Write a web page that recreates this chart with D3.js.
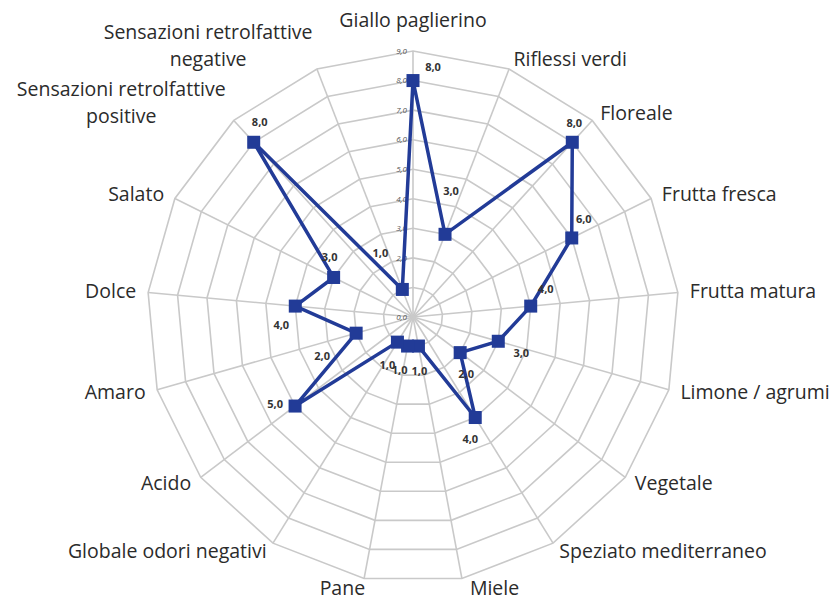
<!DOCTYPE html>
<html>
<head>
<meta charset="utf-8">
<script src="https://cdn.jsdelivr.net/npm/d3@7"></script>
<style>
  html, body { margin: 0; padding: 0; background: #ffffff; }
  svg { display: block; }
</style>
</head>
<body>
<svg id="chart" width="837" height="597"></svg>
<script>
// ---- Data ----
const categories = [
  "Giallo paglierino", "Riflessi verdi", "Floreale", "Frutta fresca", "Frutta matura",
  "Limone / agrumi", "Vegetale", "Speziato mediterraneo", "Miele", "Pane",
  "Globale odori negativi", "Acido", "Amaro", "Dolce", "Salato",
  "Sensazioni retrolfattive positive", "Sensazioni retrolfattive negative"
];
const values = [8, 3, 8, 6, 4, 3, 2, 4, 1, 1, 1, 5, 2, 4, 3, 8, 1];
const tickValues = [0, 1, 2, 3, 4, 5, 6, 7, 8, 9];
const tickLabels = ["0,0", "1,0", "2,0", "3,0", "4,0", "5,0", "6,0", "7,0", "8,0", "9,0"];

// ---- Layout / style (kept separate from data) ----
const labelOffsets = [
  [20, -13], [6, -43], [2, -19], [12, -19], [15, -17],
  [23, 12], [6, 22], [-5, 22], [1, 25], [-8, 24],
  [-10, 23], [-20, -2], [-34, 23], [-14, 19], [-4, -20],
  [6, -20], [-22, -36]
];
const cx = 413, cy = 317, R = 266;
const lineColor = "#223B97";
const gridColor = "#C9C9C9";
const fontFam = "'Open Sans', Lato, sans-serif";
const labelFont = 19.5;

const svg = d3.select("#chart");
const n = categories.length;
const r = d3.scaleLinear().domain([0, d3.max(tickValues)]).range([0, R]);
const angle = d3.scaleLinear().domain([0, n]).range([0, 2 * Math.PI]);
const px = (i, v) => cx + r(v) * Math.sin(angle(i));
const py = (i, v) => cy - r(v) * Math.cos(angle(i));

const g = svg.append("g");

// Rings (polygons)
const idx = d3.range(n);
g.selectAll("path.ring").data(tickValues.filter(t => t > 0)).join("path")
  .attr("class", "ring")
  .attr("d", t => d3.line()(idx.map(i => [px(i, t), py(i, t)])) + "Z")
  .attr("fill", "none")
  .attr("stroke", gridColor)
  .attr("stroke-width", 1.6);

// Spokes
g.selectAll("line.spoke").data(idx).join("line")
  .attr("class", "spoke")
  .attr("x1", cx).attr("y1", cy)
  .attr("x2", i => px(i, d3.max(tickValues)))
  .attr("y2", i => py(i, d3.max(tickValues)))
  .attr("stroke", gridColor)
  .attr("stroke-width", 1.6);

// Tick labels along the top axis
g.selectAll("text.tick").data(tickValues).join("text")
  .attr("class", "tick")
  .attr("x", cx - 6)
  .attr("y", t => cy - r(t))
  .attr("dy", "0.35em")
  .attr("text-anchor", "end")
  .attr("font-family", fontFam)
  .attr("font-size", 8)
  .attr("font-style", "italic")
  .attr("fill", "#555555")
  .text((t, k) => tickLabels[k]);

// Axis category labels
const maxW = 250;
idx.forEach(i => {
  const a = angle(i);
  const s = Math.sin(a), c = Math.cos(a);
  const tx = px(i, d3.max(tickValues)), ty = py(i, d3.max(tickValues));
  let anchor = "middle", x = tx;
  if (s > 0.3) { anchor = "start"; x = tx + 12 * s; }
  else if (s > 0.05) { anchor = "start"; x = tx + 8; }
  else if (s < -0.3) { anchor = "end"; x = tx + 12 * s; }
  else if (s < -0.05) { anchor = "end"; x = tx + 1; }
  const t = g.append("text")
    .attr("text-anchor", anchor)
    .attr("font-family", fontFam)
    .attr("font-size", labelFont)
    .attr("fill", "#2b2b2b");
  // wrap long labels
  const words = categories[i].split(" ");
  const tmp = t.append("tspan").text(categories[i]);
  let lines = [categories[i]];
  if (tmp.node().getComputedTextLength() > maxW) {
    lines = [];
    let cur = "";
    words.forEach(w => {
      const test = cur ? cur + " " + w : w;
      tmp.text(test);
      if (tmp.node().getComputedTextLength() > maxW - 10 && cur) { lines.push(cur); cur = w; }
      else cur = test;
    });
    if (cur) lines.push(cur);
  }
  tmp.remove();
  const lh = 27;
  let centerY;
  if (Math.abs(s) < 0.05) centerY = ty - 31;
  else centerY = ty - c * 10 + (c < -0.9 ? 0 : 0);
  let blockX = x;
  if (lines.length > 1) {
    const widths = lines.map(l => { const tt = t.append("tspan").text(l); const w = tt.node().getComputedTextLength(); tt.remove(); return w; });
    const bw = d3.max(widths);
    if (anchor === "end") blockX = x - bw / 2;
    else if (anchor === "start") blockX = x + bw / 2;
    t.attr("text-anchor", "middle");
    centerY = centerY - (lines.length - 1) * lh / 2 + (c > 0.9 ? 0 : 3);
  }
  lines.forEach((l, k) => {
    t.append("tspan")
      .attr("x", blockX)
      .attr("y", centerY + (k - (lines.length - 1) / 2) * lh)
      .attr("dy", "0.35em")
      .text(l);
  });
});

// Data line
const pts = values.map((v, i) => [px(i, v), py(i, v)]);
g.append("path")
  .attr("d", d3.line()(pts) + "Z")
  .attr("fill", "none")
  .attr("stroke", lineColor)
  .attr("stroke-width", 3.5)
  .attr("stroke-linejoin", "miter");

// Markers
const ms = 13;
g.selectAll("rect.marker").data(values).join("rect")
  .attr("class", "marker")
  .attr("x", (v, i) => px(i, v) - ms / 2)
  .attr("y", (v, i) => py(i, v) - ms / 2)
  .attr("width", ms).attr("height", ms)
  .attr("fill", lineColor);

// Data labels
g.selectAll("text.dlabel").data(values).join("text")
  .attr("class", "dlabel")
  .attr("x", (v, i) => px(i, v) + labelOffsets[i][0])
  .attr("y", (v, i) => py(i, v) + labelOffsets[i][1])
  .attr("dy", "0.35em")
  .attr("text-anchor", "middle")
  .attr("font-family", fontFam)
  .attr("font-size", 11)
  .attr("font-weight", "bold")
  .attr("fill", "#333333")
  .text(v => d3.format(".1f")(v).replace(".", ","));
</script>
</body>
</html>
